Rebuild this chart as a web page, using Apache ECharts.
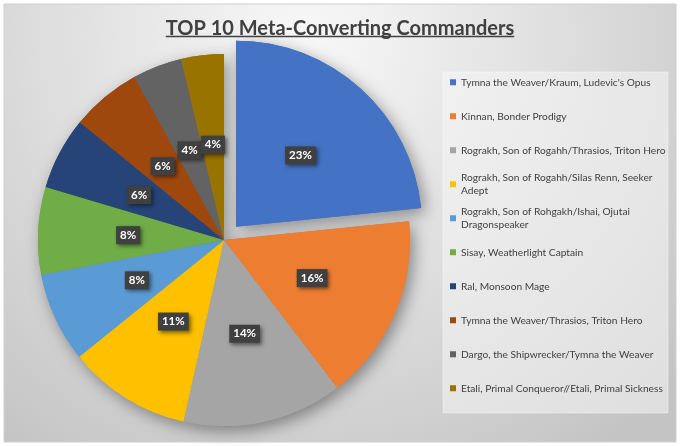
<!DOCTYPE html>
<html>
<head>
<meta charset="utf-8">
<script src="https://cdn.jsdelivr.net/npm/echarts@6/dist/echarts.min.js"></script>
<style>
  html, body { margin: 0; padding: 0; background: #ffffff; }
  #chart { width: 680px; height: 446px; }
</style>
</head>
<body>
<div id="chart"></div>
<script>
var titleText = 'TOP 10 Meta-Converting Commanders';

var names = [
  "Tymna the Weaver/Kraum, Ludevic's Opus",
  "Kinnan, Bonder Prodigy",
  "Rograkh, Son of Rogahh/Thrasios, Triton Hero",
  "Rograkh, Son of Rogahh/Silas Renn, Seeker Adept",
  "Rograkh, Son of Rohgakh/Ishai, Ojutai Dragonspeaker",
  "Sisay, Weatherlight Captain",
  "Ral, Monsoon Mage",
  "Tymna the Weaver/Thrasios, Triton Hero",
  "Dargo, the Shipwrecker/Tymna the Weaver",
  "Etali, Primal Conqueror//Etali, Primal Sickness"
];

// legend text as it wraps in the picture
var legendLabels = [
  "Tymna the Weaver/Kraum, Ludevic's Opus",
  "Kinnan, Bonder Prodigy",
  "Rograkh, Son of Rogahh/Thrasios, Triton Hero",
  "Rograkh, Son of Rogahh/Silas Renn, Seeker\nAdept",
  "Rograkh, Son of Rohgakh/Ishai, Ojutai\nDragonspeaker",
  "Sisay, Weatherlight Captain",
  "Ral, Monsoon Mage",
  "Tymna the Weaver/Thrasios, Triton Hero",
  "Dargo, the Shipwrecker/Tymna the Weaver",
  "Etali, Primal Conqueror//Etali, Primal Sickness"
];

var shares = [23.4, 16.2, 13.9, 10.7, 7.8, 7.6, 6.3, 6.1, 4.3, 3.7];

var colors = ['#4472C4', '#ED7D31', '#A5A5A5', '#FFC000', '#5B9BD5',
              '#70AD47', '#264478', '#9E480E', '#636363', '#997300'];

var pieData = names.map(function (n, i) {
  return { name: n, value: shares[i], selected: i === 0 };
});

// width of the title, for the underline
var ctx = document.createElement('canvas').getContext('2d');
ctx.font = 'bold 20px Lato';
var titleW = ctx.measureText(titleText).width;

var legends = names.map(function (name, i) {
  var twoLines = legendLabels[i].indexOf('\n') >= 0;
  return {
    data: [name],
    left: 450,
    top: 82 + i * 34 - (twoLines ? 20 : 6.5),
    orient: 'vertical',
    padding: 0,
    icon: 'rect',
    itemWidth: 6,
    itemHeight: 6,
    formatter: function () { return legendLabels[i]; },
    textStyle: {
      fontFamily: 'Lato',
      fontSize: 10.2,
      color: '#404040',
      lineHeight: 13.5,
      padding: twoLines ? [13.5, 0, 0, 0] : 0
    }
  };
});

var option = {
  animation: false,
  color: colors,
  title: {
    text: titleText,
    left: 'center',
    top: 14,
    textStyle: {
      fontFamily: 'Lato',
      fontWeight: 'bold',
      fontSize: 20,
      color: '#404040'
    }
  },
  legend: legends,
  graphic: [
    {
      type: 'rect',
      z: -10,
      shape: { x: 4, y: 4, width: 672, height: 438 },
      style: {
        fill: {
          type: 'radial', x: 0.45, y: 0.08, r: 1.15,
          colorStops: [
            { offset: 0, color: '#f8f8f8' },
            { offset: 0.55, color: '#dcdcdc' },
            { offset: 1, color: '#c4c4c4' }
          ]
        },
        stroke: '#d0d0d0',
        lineWidth: 1
      }
    },
    {
      type: 'rect',
      z: -5,
      shape: { x: 443, y: 72, width: 225, height: 341 },
      style: { fill: 'rgba(245,245,245,0.55)', stroke: 'rgba(255,255,255,0.4)', lineWidth: 1 }
    },
    {
      type: 'line',
      z: 10,
      shape: { x1: 340 - titleW / 2, y1: 36.5, x2: 340 + titleW / 2, y2: 36.5 },
      style: { stroke: '#404040', lineWidth: 1.5 }
    }
  ],
  series: [
    {
      // soft shadow under the pie
      type: 'pie',
      z: 1,
      silent: true,
      center: [224, 240],
      radius: 186,
      selectedMode: 'single',
      selectedOffset: 18,
      label: { show: false },
      labelLine: { show: false },
      itemStyle: {
        borderWidth: 0,
        shadowBlur: 16,
        shadowColor: 'rgba(0,0,0,0.4)',
        shadowOffsetX: 4,
        shadowOffsetY: 5
      },
      data: pieData
    },
    {
      type: 'pie',
      z: 2,
      center: [224, 240],
      radius: 186,
      selectedMode: 'single',
      selectedOffset: 18,
      itemStyle: { borderWidth: 0 },
      label: {
        show: true,
        position: 'inside',
        formatter: function (p) { return Math.round(p.percent) + '%'; },
        fontFamily: 'Lato',
        fontWeight: 'bold',
        fontSize: 11.5,
        color: '#ffffff',
        backgroundColor: '#404040',
        padding: [3, 4],
        shadowBlur: 4,
        shadowColor: 'rgba(0,0,0,0.5)',
        shadowOffsetX: 2,
        shadowOffsetY: 2
      },
      labelLayout: { hideOverlap: false },
      emphasis: { scale: false },
      data: pieData
    }
  ]
};

var chart = echarts.init(document.getElementById('chart'));
chart.setOption(option);
</script>
</body>
</html>
